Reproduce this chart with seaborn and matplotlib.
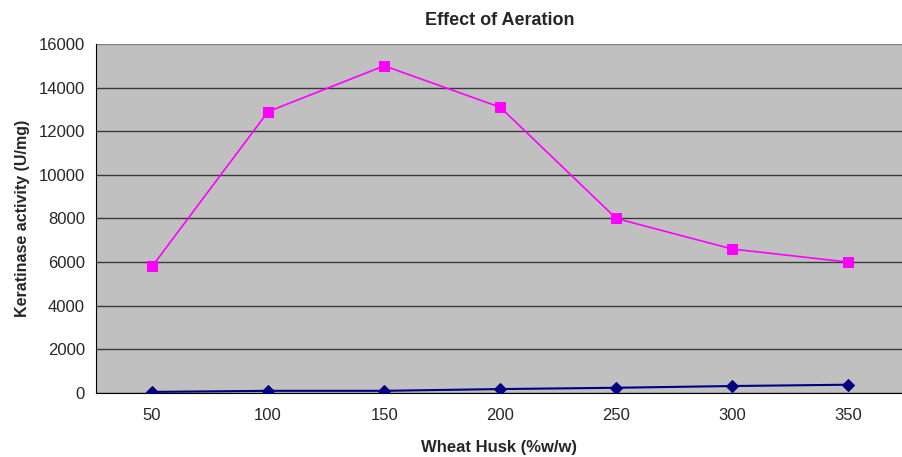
import numpy as np
import pandas as pd
import matplotlib
matplotlib.use('Agg')
import matplotlib.pyplot as plt
import seaborn as sns

# data
husk = ['50', '100', '150', '200', '250', '300', '350']
aerated = [5800, 12900, 15000, 13100, 8000, 6600, 6000]
control = [50, 100, 100, 180, 240, 320, 380]

pos = np.arange(len(husk))
df = pd.DataFrame({'pos': pos, 'aerated': aerated, 'control': control})

sns.set_style('white')
plt.rcParams['font.family'] = ['Liberation Sans', 'DejaVu Sans']

fig = plt.figure(figsize=(9.03, 4.57), dpi=100)
ax = fig.add_axes([96 / 903, 1 - 393 / 457, 1 - 96 / 903, (393 - 44) / 457])
ax.set_facecolor('#c0c0c0')

sns.lineplot(data=df, x='pos', y='aerated', ax=ax, color='#ff00ff', lw=1.2,
             marker='s', markersize=6.5, markeredgecolor='#ff00ff', zorder=3)
sns.lineplot(data=df, x='pos', y='control', ax=ax, color='#000080', lw=1.5,
             marker='D', markersize=6, markeredgecolor='#000080', zorder=3)

ax.set_ylim(0, 16000)
ax.set_yticks(np.arange(0, 16001, 2000))
ax.set_xlim(-0.483, 6.47)
ax.set_xticks(pos)
ax.set_xticklabels(husk)
ax.set_xticks(pos[:-1] + 0.5, minor=True)
ax.tick_params(axis='x', which='major', length=0, pad=11, labelsize=12)
ax.tick_params(axis='x', which='minor', length=7, width=1, color='black', direction='out')
ax.tick_params(axis='y', length=5, width=1, color='black', direction='out', labelsize=12, pad=3)
ax.yaxis.grid(True, color='#3a3a3a', lw=1)
ax.set_axisbelow(True)
ax.get_ygridlines()[-1].set_color('#808080')

for s in ['top', 'right']:
    ax.spines[s].set_visible(False)
ax.spines['left'].set_color('black')
ax.spines['bottom'].set_color('black')

ax.set_title('Effect of Aeration', fontsize=13, fontweight='bold', pad=14)
ax.set_xlabel('Wheat Husk (%w/w)', fontsize=12, fontweight='bold', labelpad=12)
ax.set_ylabel('Keratinase activity (U/mg)', fontsize=11.5, fontweight='bold', labelpad=6)

fig.savefig('out.png', dpi=100)
